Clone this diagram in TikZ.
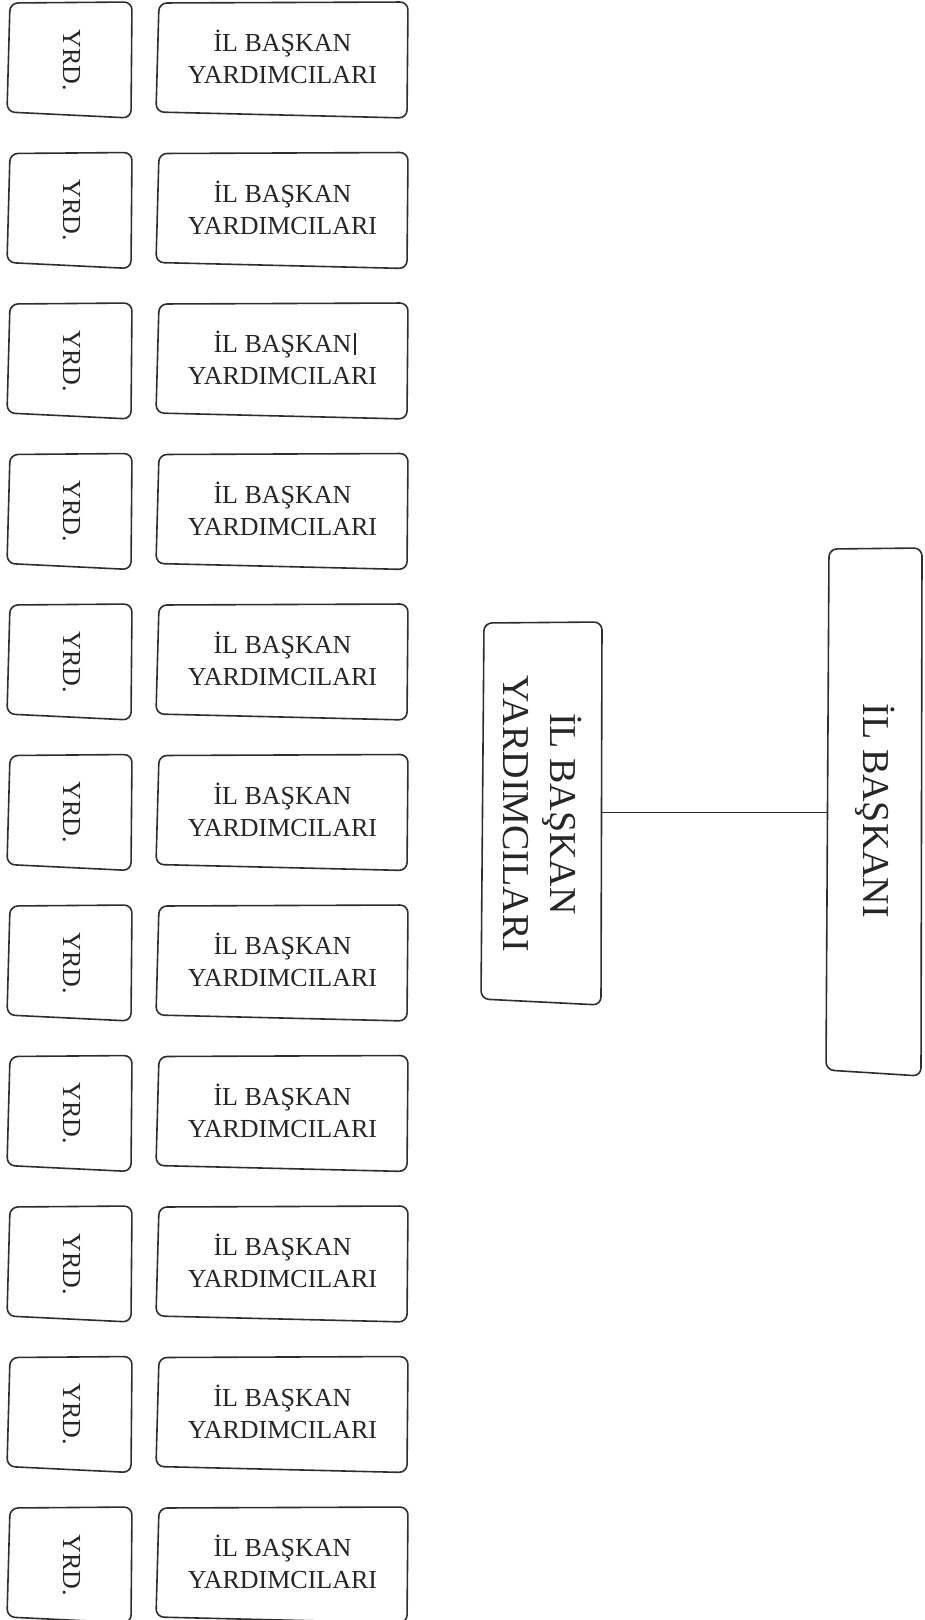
\documentclass[tikz,border=0pt]{standalone}
\usepackage{fontspec}
\setmainfont{Liberation Serif}
\usepackage{graphicx}
\newcommand\mysketchframe[1]{%
  \draw[sk] ([shift={(2,0)}]#1.north west) -- ([shift={(0,-1)}]#1.north east)
    -- ([shift={(-1,3)}]#1.south east) -- ([shift={(-1,-3)}]#1.south west) -- cycle;}
\begin{document}
\begin{tikzpicture}[x=1pt,y=-1pt,
  frame/.style={draw=none, inner sep=0pt, outer sep=0pt},
  sk/.style={draw=black!82, line width=1.6pt, rounded corners=8pt, line join=round},
  conn/.style={draw=black!82, line width=1.5pt},
  smalltxt/.style={font=\fontsize{26}{32}\selectfont, align=center, inner sep=0pt, text=black!85},
  bigtxt/.style={font=\fontsize{38}{47}\selectfont, align=center, inner sep=0pt, text=black!85}]
\useasboundingbox[fill=white] (0,0) rectangle (924,1620);
\foreach \i in {0,...,10}{
  \pgfmathsetmacro\cy{59+150.5*\i}
  \node[frame, minimum width=124pt, minimum height=112pt] (y\i) at (70,\cy) {};
  \node[smalltxt] (yt\i) at (71.5,\cy+1) {\rotatebox{-90}{YRD.}};
  \node[frame, minimum width=251pt, minimum height=112pt] (b\i) at (282.5,\cy) {};
  \node[smalltxt] (bt\i) at (282.5,\cy-2) {İL BAŞKAN\ifnum\i=2\rlap{\hspace{3pt}\rule[-2pt]{1.4pt}{22pt}}\fi\\YARDIMCILARI};
  \mysketchframe{y\i}
  \mysketchframe{b\i}
}
\node[frame, minimum width=120pt, minimum height=379pt] (mid) at (542,812.5) {};
\node[bigtxt] (midtxt) at (536,814) {\rotatebox{-90}{\begin{tabular}{@{}c@{}}İL BAŞKAN\\YARDIMCILARI\end{tabular}}};
\mysketchframe{mid}
\node[frame, minimum width=95pt, minimum height=524pt] (top) at (874.5,811) {};
\node[bigtxt] (toptxt) at (875,811) {\rotatebox{-90}{İL BAŞKANI}};
\mysketchframe{top}
\draw[conn] (mid.east) -- (mid.east -| top.west);
\end{tikzpicture}
\end{document}
